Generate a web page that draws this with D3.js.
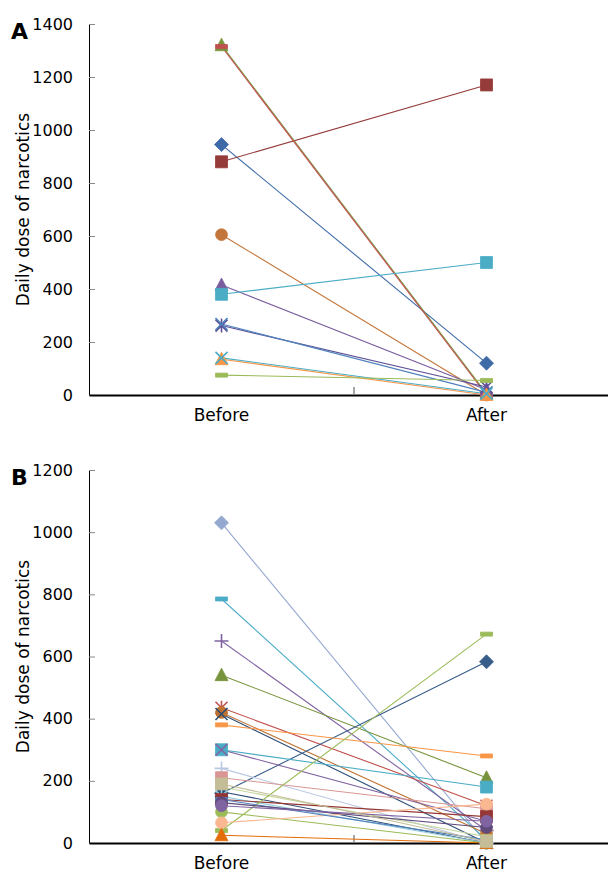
<!DOCTYPE html>
<html>
<head>
<meta charset="utf-8">
<script src="https://cdn.jsdelivr.net/npm/d3@7"></script>
<style>
  body { margin: 0; background: #fff; }
  svg { display: block; }
  text { font-family: "DejaVu Sans", Verdana, sans-serif; }
</style>
</head>
<body>
<svg width="608" height="872"></svg>
<script>
var categories = ["Before", "After"];

// panel A
var aTicks = [0, 200, 400, 600, 800, 1000, 1200, 1400];
var aMarkers = ["diamond", "square", "triangle", "dash", "circle", "triangle", "square", "star", "x", "triangle", "x", "dash"];
var aColors = ["#3E6AA8", "#953B39", "#77933C", "#C0504D", "#C4763A", "#7A5C9E", "#4BACC6", "#5E5096", "#4F81BD", "#F79646", "#4BACC6", "#9BBB59"];
var aBefore = [945, 880, 1320, 1315, 605, 415, 380, 262, 268, 135, 140, 75];
var aAfter = [120, 1170, 5, 0, 0, 20, 500, 30, 10, 0, 5, 55];

// panel B
var bTicks = [0, 200, 400, 600, 800, 1000, 1200];
var bMarkers = ["diamond", "dash", "plus", "triangle", "star", "circle", "x", "diamond", "dash", "square", "x", "plus",
                "square", "dash", "triangle", "star", "square", "dash", "circle", "circle", "triangle", "dash", "circle", "circle", "square"];
var bColors = ["#95A8D0", "#4BACC6", "#8064A2", "#77933C", "#C0504D", "#C0702F", "#2C4D75", "#385D8A", "#F79646", "#4BACC6", "#8064A2", "#B9C7E3",
               "#D99694", "#C3D69B", "#2C4D75", "#93CDDD", "#953735", "#9BBB59", "#9BBB59", "#FAB891", "#E46C0A", "#4F81BD", "#604A7B", "#8064A2", "#C4BD97"];
var bBefore = [1030, 785, 650, 540, 435, 420, 415, 160, 380, 300, 300, 240, 210, 180, 165, 150, 140, 40, 100, 65, 25, 140, 130, 120, 190];
var bAfter = [0, 10, 40, 210, 120, 30, 0, 583, 280, 180, 70, 0, 110, 20, 0, 0, 85, 672, 0, 125, 0, 10, 50, 70, 5];

var svg = d3.select("svg");

function markerPath(type) {
    switch (type) {
        case "diamond": return "M0,-7L7,0L0,7L-7,0Z";
        case "square": return "M-6,-6H6V6H-6Z";
        case "triangle": return "M0,-7L6.5,5.5H-6.5Z";
        case "circle": return d3.symbol(d3.symbolCircle, 110)();
        case "dash": return "M-6,-2H6V2H-6Z";
        default: return null;
    }
}

function drawMarker(g, type, color, cx, cy) {
    var m = g.append("g").attr("transform", "translate(" + cx + "," + cy + ")");
    var p = markerPath(type);
    if (p) {
        m.append("path").attr("d", p).attr("fill", color).attr("stroke", color).attr("stroke-width", 0.8);
        return;
    }
    var s = 6, d = "";
    if (type == "x" || type == "star") d += "M-" + s + ",-" + s + "L" + s + "," + s + "M" + s + ",-" + s + "L-" + s + "," + s;
    if (type == "star") d += "M0,-" + (s + 1) + "V" + (s + 1);
    if (type == "plus") d += "M-" + (s + 1) + ",0H" + (s + 1) + "M0,-" + (s + 1) + "V" + (s + 1);
    m.append("path").attr("d", d).attr("fill", "none").attr("stroke", color).attr("stroke-width", 1.6);
}

function drawPanel(letter, top, bottom, ticks, markers, colors, before, after) {
    var left = 89;
    var x = d3.scaleBand().domain(categories).range([left, 619]);
    var y = d3.scaleLinear().domain([0, d3.max(ticks)]).range([bottom, top]);
    var g = svg.append("g");

    // y axis, ticks pointing inward
    var yAxis = g.append("g")
        .attr("transform", "translate(" + left + ",0)")
        .call(d3.axisLeft(y).tickValues(ticks).tickFormat(d3.format("d"))
            .tickSize(-6).tickPadding(16).tickSizeOuter(0));
    yAxis.select(".domain").attr("stroke", "#000").attr("stroke-width", 1);
    yAxis.selectAll(".tick line").attr("stroke", "#888");
    yAxis.selectAll(".tick text").attr("font-size", 16).attr("fill", "#000");

    // x axis
    var xAxis = g.append("g")
        .attr("transform", "translate(0," + bottom + ")")
        .call(d3.axisBottom(x).tickSize(0).tickPadding(14));
    xAxis.select(".domain").attr("stroke", "#000").attr("stroke-width", 2);
    xAxis.selectAll(".tick text").attr("font-size", 17).attr("fill", "#000");
    g.append("line")
        .attr("x1", left + x.step()).attr("x2", left + x.step())
        .attr("y1", bottom - 8).attr("y2", bottom)
        .attr("stroke", "#888").attr("stroke-width", 1.5);

    // axis title and panel letter
    g.append("text")
        .attr("transform", "translate(29," + ((top + bottom) / 2) + ") rotate(-90)")
        .attr("text-anchor", "middle")
        .attr("font-size", 17)
        .text("Daily dose of narcotics");
    g.append("text")
        .attr("x", 11).attr("y", top + 15)
        .attr("font-family", "Liberation Sans, Arial, sans-serif")
        .attr("font-weight", "bold")
        .attr("font-size", 22)
        .text(letter);

    var xb = x("Before") + x.bandwidth() / 2, xa = x("After") + x.bandwidth() / 2;
    for (var i = 0; i < before.length; i++) {
        g.append("line")
            .attr("x1", xb).attr("y1", y(before[i]))
            .attr("x2", xa).attr("y2", y(after[i]))
            .attr("stroke", colors[i]).attr("stroke-width", 1.1);
    }
    for (var i = 0; i < before.length; i++) {
        drawMarker(g, markers[i], colors[i], xb, y(before[i]));
        drawMarker(g, markers[i], colors[i], xa, y(after[i]));
    }
}

drawPanel("A", 24, 395, aTicks, aMarkers, aColors, aBefore, aAfter);
drawPanel("B", 470, 843, bTicks, bMarkers, bColors, bBefore, bAfter);
</script>
</body>
</html>
